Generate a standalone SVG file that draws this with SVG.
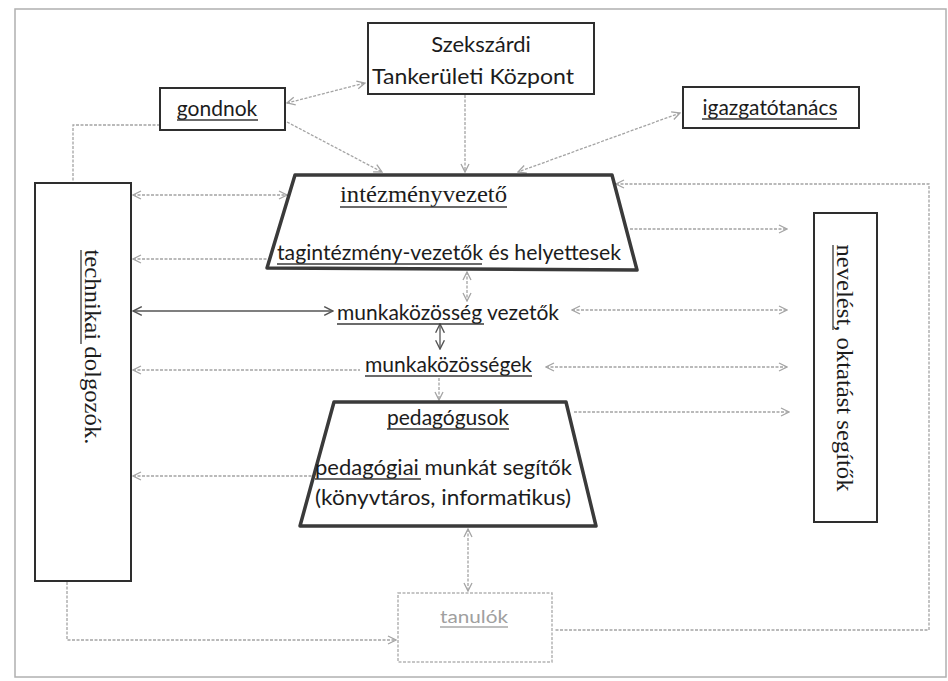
<svg xmlns="http://www.w3.org/2000/svg" width="948" height="681" viewBox="0 0 948 681">
<style>
.box{fill:#fff;stroke:#2e2e2e;stroke-width:2}
.trap{fill:#fff;stroke:#3a3a3a;stroke-width:3.5;stroke-linejoin:round}
.sans{font-family:Lato,"Open Sans","Liberation Sans",sans-serif;fill:#1c1c1c}
.serif{font-family:"Liberation Serif","DejaVu Serif",serif;fill:#1c1c1c}
.ul{stroke:#3a3a3a;stroke-width:1.3}
.c{fill:none;stroke:#a4a4a4;stroke-width:1.3;stroke-dasharray:3 1.5}
.d{fill:none;stroke:#555;stroke-width:1.3}
</style>
<defs>
<marker id="ag" viewBox="0 0 10 10" refX="9" refY="5" markerWidth="10" markerHeight="10" markerUnits="userSpaceOnUse" orient="auto-start-reverse">
<path d="M1,1 L9,5 L1,9" fill="none" stroke="#a4a4a4" stroke-width="1.3"/>
</marker>
<marker id="ad" viewBox="0 0 10 10" refX="9" refY="5" markerWidth="11" markerHeight="11" markerUnits="userSpaceOnUse" orient="auto-start-reverse">
<path d="M1,1 L9,5 L1,9" fill="none" stroke="#555" stroke-width="1.3"/>
</marker>
</defs>
<rect x="15" y="9" width="931" height="668" fill="#fff" stroke="#b0b0b0" stroke-width="1.5"/>
<g id="connectors">
<line class="c" x1="287" y1="103" x2="365" y2="83" marker-start="url(#ag)" marker-end="url(#ag)"/>
<line class="c" x1="287" y1="122" x2="382" y2="172" marker-end="url(#ag)"/>
<line class="c" x1="465" y1="95" x2="465" y2="172" marker-end="url(#ag)"/>
<line class="c" x1="680" y1="113" x2="518" y2="172" marker-start="url(#ag)" marker-end="url(#ag)"/>
<polyline class="c" points="160,125 73,125 73,181"/>
<line class="c" x1="133" y1="195" x2="287" y2="195" marker-start="url(#ag)" marker-end="url(#ag)"/>
<line class="c" x1="133" y1="259" x2="268" y2="259" marker-start="url(#ag)"/>
<line class="d" x1="133" y1="311" x2="333" y2="311" marker-start="url(#ad)" marker-end="url(#ad)"/>
<line class="c" x1="133" y1="370" x2="360" y2="370" marker-start="url(#ag)"/>
<line class="c" x1="133" y1="476" x2="312" y2="476" marker-start="url(#ag)"/>
<polyline class="c" points="616,184 929,184 929,630 554,630" marker-start="url(#ag)"/>
<line class="c" x1="630" y1="229" x2="787" y2="229" marker-end="url(#ag)"/>
<line class="c" x1="572" y1="310" x2="787" y2="310" marker-start="url(#ag)" marker-end="url(#ag)"/>
<line class="c" x1="546" y1="367" x2="787" y2="367" marker-start="url(#ag)" marker-end="url(#ag)"/>
<line class="c" x1="574" y1="412" x2="789" y2="412" marker-end="url(#ag)"/>
<line class="c" x1="493" y1="212" x2="493" y2="245" marker-start="url(#ag)" marker-end="url(#ag)"/>
<line class="c" x1="467" y1="272" x2="467" y2="301" marker-start="url(#ag)" marker-end="url(#ag)"/>
<line class="d" x1="440" y1="324" x2="440" y2="349" marker-start="url(#ad)" marker-end="url(#ad)"/>
<line class="c" x1="439" y1="378" x2="439" y2="400" marker-end="url(#ag)"/>
<line class="c" x1="440" y1="428" x2="440" y2="452" marker-start="url(#ag)" marker-end="url(#ag)"/>
<line class="c" x1="468" y1="529" x2="468" y2="591" marker-start="url(#ag)" marker-end="url(#ag)"/>
<polyline class="c" points="67,582 67,640 396,640" marker-end="url(#ag)"/>
</g>
<g id="szekszardi">
<rect class="box" x="368" y="23" width="226" height="71"/>
<text class="sans" x="481" y="52" font-size="22" text-anchor="middle">Szekszárdi</text>
<text class="sans" x="473" y="84" font-size="22" text-anchor="middle" textLength="202" lengthAdjust="spacingAndGlyphs">Tankerületi Központ</text>
</g>
<g id="gondnok">
<rect class="box" x="160" y="88" width="125" height="42"/>
<text class="sans" x="217" y="116" font-size="21" text-anchor="middle">gondnok</text>
<line class="ul" x1="177" y1="120" x2="258" y2="120"/>
</g>
<g id="igazgatotanacs">
<rect class="box" x="683" y="87" width="176" height="41"/>
<text class="sans" x="770" y="115" font-size="21" text-anchor="middle" textLength="135" lengthAdjust="spacingAndGlyphs">igazgatótanács</text>
<line class="ul" x1="702" y1="119" x2="837" y2="119"/>
</g>
<g id="intezmenyvezeto">
<polygon class="trap" points="295,175 612,175 637,270 267,268"/>
<text class="serif" x="340" y="202" font-size="24" textLength="167" lengthAdjust="spacingAndGlyphs">intézményvezető</text>
<line class="ul" x1="340" y1="207" x2="507" y2="207"/>
<text class="sans" x="277" y="260" font-size="22" textLength="344" lengthAdjust="spacingAndGlyphs">tagintézmény-vezetők és helyettesek</text>
<line class="ul" x1="277" y1="264" x2="482" y2="264"/>
</g>
<g id="munkakozosseg-vezetok">
<text class="sans" x="337" y="320" font-size="22" textLength="222" lengthAdjust="spacingAndGlyphs">munkaközösség vezetők</text>
<line class="ul" x1="337" y1="324" x2="484" y2="324"/>
</g>
<g id="munkakozossegek">
<text class="sans" x="365" y="372" font-size="22" textLength="167" lengthAdjust="spacingAndGlyphs">munkaközösségek</text>
<line class="ul" x1="365" y1="376" x2="532" y2="376"/>
</g>
<g id="pedagogusok">
<polygon class="trap" points="334,402 566,402 596,526 300,526"/>
<text class="sans" x="387" y="425" font-size="22" textLength="122" lengthAdjust="spacingAndGlyphs">pedagógusok</text>
<line class="ul" x1="387" y1="429" x2="509" y2="429"/>
<text class="sans" x="315" y="475" font-size="22" textLength="257" lengthAdjust="spacingAndGlyphs">pedagógiai munkát segítők</text>
<line class="ul" x1="315" y1="479" x2="421" y2="479"/>
<text class="sans" x="315" y="505" font-size="22" textLength="256" lengthAdjust="spacingAndGlyphs">(könyvtáros, informatikus)</text>
</g>
<g id="tanulok">
<rect x="398" y="593" width="154" height="69" fill="#fff" stroke="#b4b4b4" stroke-width="1.5" stroke-dasharray="3 1.5"/>
<text x="474" y="623" font-family="Lato,'Open Sans','Liberation Sans',sans-serif" font-size="18" fill="#a0a0a0" text-anchor="middle" textLength="68" lengthAdjust="spacingAndGlyphs">tanulók</text>
<line x1="440" y1="627" x2="508" y2="627" stroke="#a8a8a8" stroke-width="1.3"/>
</g>
<g id="technikai-dolgozok">
<rect class="box" x="35" y="183" width="96" height="398"/>
<text class="serif" font-size="24" text-anchor="middle" textLength="195" lengthAdjust="spacingAndGlyphs" transform="translate(85,347) rotate(90)">technikai dolgozók.</text>
<line class="ul" x1="81" y1="250" x2="81" y2="344"/>
</g>
<g id="nevelest-oktatast-segitok">
<rect class="box" x="814" y="213" width="63" height="309"/>
<text class="serif" font-size="23" text-anchor="middle" textLength="247" lengthAdjust="spacingAndGlyphs" transform="translate(837,368) rotate(90)">nevelést, oktatást segítők</text>
<line class="ul" x1="833" y1="245" x2="833" y2="330"/>
</g>
</svg>
